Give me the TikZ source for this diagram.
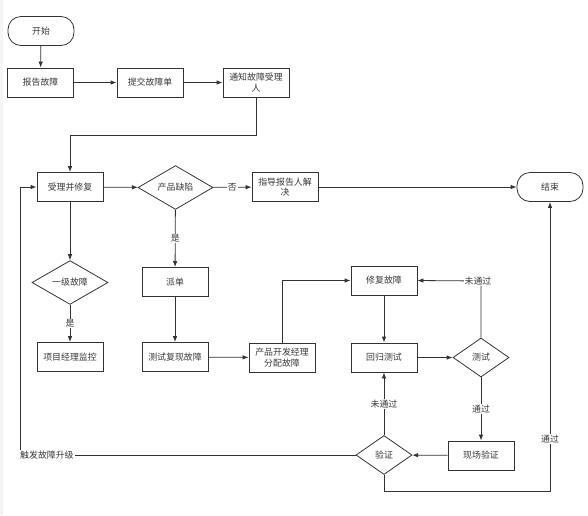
\documentclass[tikz,border=0pt]{standalone}
\usepackage{fontspec}
\setmainfont{Noto Sans CJK SC}
\usetikzlibrary{arrows.meta,shapes.geometric}
\begin{document}
\begin{tikzpicture}[x=1pt,y=-1pt,
  every node/.style={font=\fontsize{8.9}{10.5}\selectfont, text=black!78},
  box/.style={draw=black!80, line width=0.8pt, minimum width=66pt, minimum height=29pt, align=center, inner sep=1pt},
  term/.style={box, rounded corners=13pt},
  dia/.style={draw=black!80, line width=0.8pt, diamond, inner sep=0pt, minimum width=#1, minimum height=39pt},
  lab/.style={fill=white, inner sep=1pt},
  conn/.style={draw=black!80, line width=0.8pt},
  arr/.style={conn, -{Latex[length=6pt,width=4.5pt]}}]
\useasboundingbox (0,0) rectangle (588,515);
\fill[gray!8] (0,0) rectangle (3,515);

\node[term] (start) at (41,31) {开始};
\node[box] (bg) at (40.5,82.5) {报告故障};
\node[box] (tj) at (150,82.5) {提交故障单};
\node[box] (tz) at (256,82.5) {通知故障受理\\人};
\node[box] (sl) at (70,187) {受理并修复};
\node[dia=75pt] (cp) at (175.5,187.5) {产品缺陷};
\node[box] (zd) at (285,187) {指导报告人解\\决};
\node[term] (end) at (550,187) {结束};
\node[dia=76pt] (yj) at (70,282.5) {一级故障};
\node[box] (xm) at (70,357) {项目经理监控};
\node[box] (pd) at (175,282) {派单};
\node[box] (cs) at (175,357) {测试复现故障};
\node[box] (kf) at (282,357.5) {产品开发经理\\分配故障};
\node[box] (xf) at (384,280.5) {修复故障};
\node[box] (hg) at (384,357.5) {回归测试};
\node[dia=56pt] (ts) at (481,357.5) {测试};
\node[box] (xc) at (481,455.5) {现场验证};
\node[dia=56pt] (yz) at (384,455) {验证};

\coordinate (c0) at (256,135);
\coordinate (c1) at (550,491);
\coordinate (c4) at (20,455);
\coordinate (c5) at (481,281);

\draw[arr] (start) -- (bg);
\draw[arr] (bg) -- (tj);
\draw[arr] (tj) -- (tz);
\draw[arr] (tz.south) -- (c0) -| (sl.north);
\draw[arr] (sl) -- (cp);
\draw[arr] (cp) -- node[lab]{否} (zd);
\draw[arr] (zd) -- (end);
\draw[arr] (sl) -- (yj);
\draw[arr] (yj) -- node[lab]{是} (xm);
\draw[arr] (cp) -- node[lab]{是} (pd);
\draw[arr] (pd) -- (cs);
\draw[arr] (cs) -- (kf);
\draw[arr] (kf.north) |- (xf.west);
\draw[arr] (xf) -- (hg);
\draw[arr] (hg) -- (ts);
\draw[arr] (ts.north) -- (c5) -- (xf.east);
\node[lab] at (478,281) {未通过};
\draw[arr] (ts) -- node[lab]{通过} (xc);
\draw[arr] (xc) -- (yz);
\draw[arr] (yz) -- node[lab]{未通过} (hg);
\draw[arr] (yz.south) |- (c1) -- node[lab, pos=0.18]{通过} (end.south);
\draw[arr] (yz.west) -- (c4) |- (sl.west);
\node[lab, anchor=west] at (19,455) {触发故障升级};
\end{tikzpicture}
\end{document}
